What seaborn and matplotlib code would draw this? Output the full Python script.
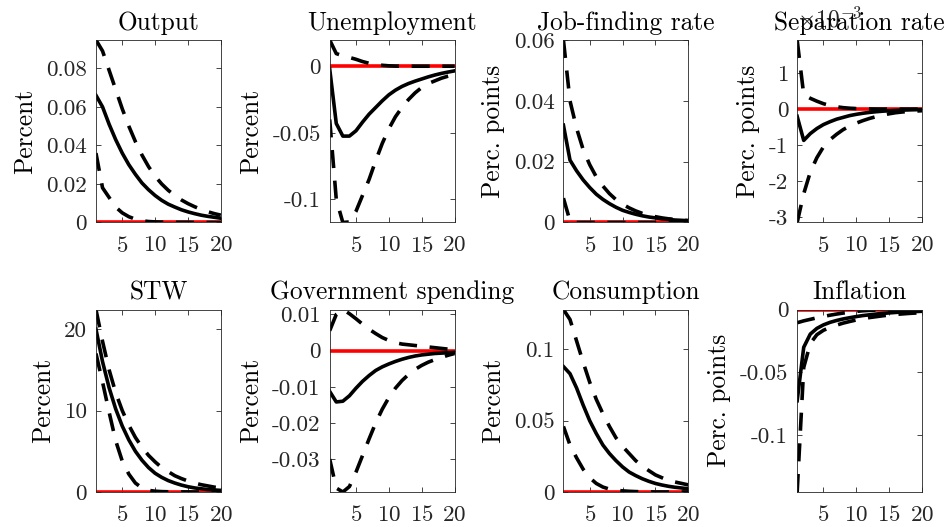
import numpy as np
import matplotlib
matplotlib.use('Agg')
import matplotlib.pyplot as plt
from matplotlib.ticker import FuncFormatter
import seaborn as sns

# Horizon (quarters)
horizon = list(range(1, 21))

# Output
output_med = [0.066, 0.060, 0.051, 0.043, 0.036, 0.030, 0.025, 0.0205, 0.017, 0.014,
              0.0115, 0.0095, 0.008, 0.0066, 0.0055, 0.0046, 0.0038, 0.0032, 0.0027, 0.0022]
output_hi = [0.0947, 0.089, 0.079, 0.069, 0.059, 0.050, 0.042, 0.035, 0.029, 0.024,
             0.020, 0.0167, 0.014, 0.0117, 0.0098, 0.0082, 0.0068, 0.0056, 0.0046, 0.0038]
output_lo = [0.036, 0.018, 0.013, 0.008, 0.005, 0.003, 0.0017, 0.0009, 0.0005, 0.0003,
             0.0002, 0.0001, 0.0001, 0.0001, 0.0001, 0, 0, 0, 0, 0]

# Unemployment
unemp_med = [-0.002, -0.043, -0.0525, -0.0525, -0.0485, -0.042, -0.036, -0.031, -0.026, -0.0215,
             -0.018, -0.0152, -0.0130, -0.0112, -0.0096, -0.0080, -0.0066, -0.0054, -0.0044, -0.0035]
unemp_hi = [0.0197, 0.0095, 0.0078, 0.0066, 0.0052, 0.0035, 0.0022, 0.0013, 0.0007, 0.0003,
            0.0001, 0, 0, 0, 0, 0, 0, 0, 0, 0]
unemp_lo = [-0.040, -0.100, -0.1174, -0.117, -0.109, -0.097, -0.085, -0.071, -0.058, -0.047,
            -0.038, -0.031, -0.025, -0.020, -0.016, -0.013, -0.011, -0.009, -0.0075, -0.0063]

# Job-finding rate
job_med = [0.032, 0.0205, 0.0170, 0.0140, 0.0115, 0.0093, 0.0076, 0.0062, 0.0050, 0.0040,
           0.0033, 0.0027, 0.0022, 0.0018, 0.0015, 0.0012, 0.0010, 0.0008, 0.0007, 0.0006]
job_hi = [0.060, 0.040, 0.031, 0.024, 0.019, 0.015, 0.012, 0.0095, 0.0075, 0.006,
          0.0048, 0.0038, 0.003, 0.0024, 0.0019, 0.0015, 0.0012, 0.001, 0.0008, 0.0006]
job_lo = [0.008, 0.0005, 0, 0, 0, 0, 0, 0, 0, 0, 0, 0, 0, 0, 0, 0, 0, 0, 0, 0]

# Separation rate (in units of 1e-3)
sep_med = [-0.2, -0.87, -0.68, -0.54, -0.43, -0.35, -0.28, -0.23, -0.18, -0.145,
           -0.115, -0.092, -0.073, -0.058, -0.046, -0.036, -0.028, -0.022, -0.017, -0.013]
sep_hi = [1.92, 0.40, 0.30, 0.22, 0.15, 0.10, 0.065, 0.04, 0.025, 0.015,
          0.008, 0.004, 0.001, 0, 0, 0, 0, 0, 0, 0]
sep_lo = [-3.15, -2.35, -1.75, -1.35, -1.05, -0.85, -0.70, -0.57, -0.47, -0.39,
          -0.32, -0.26, -0.21, -0.17, -0.13, -0.10, -0.08, -0.065, -0.055, -0.045]

# STW
stw_med = [20.0, 16.0, 12.8, 10.2, 8.1, 6.4, 5.0, 3.9, 3.0, 2.3,
           1.8, 1.4, 1.1, 0.85, 0.65, 0.5, 0.4, 0.3, 0.25, 0.2]
stw_hi = [22.4, 18.5, 15.0, 12.2, 10.0, 8.2, 6.7, 5.5, 4.5, 3.7,
          3.0, 2.5, 2.0, 1.65, 1.35, 1.1, 0.9, 0.75, 0.6, 0.5]
stw_lo = [17.0, 13.5, 9.8, 6.3, 3.8, 2.2, 1.1, 0.5, 0.2, 0.1,
          0.05, 0.03, 0.02, 0.01, 0.01, 0, 0, 0, 0, 0]

# Government spending
gov_med = [-0.0113, -0.0142, -0.0140, -0.0125, -0.0104, -0.0085, -0.0069, -0.0055, -0.0045, -0.0037,
           -0.0030, -0.0024, -0.0019, -0.0015, -0.0012, -0.0010, -0.0008, -0.0007, -0.0006, -0.0005]
gov_hi = [0.0055, 0.0100, 0.01135, 0.0102, 0.0088, 0.0073, 0.0059, 0.0047, 0.0036, 0.0028,
          0.0022, 0.0018, 0.0016, 0.0014, 0.0012, 0.0010, 0.0008, 0.0006, 0.0004, 0.0003]
gov_lo = [-0.0300, -0.0380, -0.0391, -0.0376, -0.0336, -0.0290, -0.0244, -0.0200, -0.0162, -0.0130,
          -0.0104, -0.0083, -0.0066, -0.0052, -0.0041, -0.0032, -0.0025, -0.0019, -0.0013, -0.0008]

# Consumption
cons_med = [0.088, 0.083, 0.073, 0.061, 0.050, 0.041, 0.033, 0.027, 0.022, 0.0176,
            0.014, 0.0115, 0.0093, 0.0075, 0.006, 0.0049, 0.004, 0.0033, 0.0028, 0.0023]
cons_hi = [0.128, 0.121, 0.106, 0.091, 0.077, 0.065, 0.055, 0.046, 0.038, 0.032,
           0.027, 0.022, 0.018, 0.015, 0.012, 0.010, 0.008, 0.007, 0.006, 0.005]
cons_lo = [0.046, 0.033, 0.024, 0.016, 0.010, 0.006, 0.0035, 0.002, 0.0012, 0.0008,
           0.0005, 0.0003, 0.0002, 0.0001, 0, 0, 0, 0, 0, 0]

# Inflation
infl_med = [-0.0725, -0.030, -0.0195, -0.0150, -0.0122, -0.0102, -0.0087, -0.0075, -0.0065, -0.0056,
            -0.0048, -0.0042, -0.0036, -0.0031, -0.0027, -0.0023, -0.0020, -0.0018, -0.0016, -0.0014]
infl_hi = [-0.0105, -0.0090, -0.0078, -0.0066, -0.0055, -0.0045, -0.0036, -0.0028, -0.0021, -0.0015,
           -0.0010, -0.0007, -0.0005, -0.0004, -0.0003, -0.0002, -0.0002, -0.0001, -0.0001, -0.0001]
infl_lo = [-0.145, -0.046, -0.027, -0.020, -0.0165, -0.0142, -0.0124, -0.0108, -0.0095, -0.0083,
           -0.0073, -0.0064, -0.0057, -0.0050, -0.0044, -0.0039, -0.0035, -0.0031, -0.0028, -0.0025]

titles = ['Output', 'Unemployment', 'Job-finding rate', 'Separation rate',
          'STW', 'Government spending', 'Consumption', 'Inflation']
ylabels = ['Percent', 'Percent', 'Perc. points', 'Perc. points',
           'Percent', 'Percent', 'Percent', 'Perc. points']
yticks = [[0, 0.02, 0.04, 0.06, 0.08], [-0.1, -0.05, 0], [0, 0.02, 0.04, 0.06], [-3, -2, -1, 0, 1],
          [0, 10, 20], [-0.03, -0.02, -0.01, 0, 0.01], [0, 0.05, 0.1], [-0.1, -0.05, 0]]
xticks = [5, 10, 15, 20]

series = [(output_med, output_hi, output_lo), (unemp_med, unemp_hi, unemp_lo),
          (job_med, job_hi, job_lo), (sep_med, sep_hi, sep_lo),
          (stw_med, stw_hi, stw_lo), (gov_med, gov_hi, gov_lo),
          (cons_med, cons_hi, cons_lo), (infl_med, infl_hi, infl_lo)]

plt.rcParams['font.family'] = ['cmr10']
plt.rcParams['mathtext.fontset'] = 'cm'
plt.rcParams['axes.unicode_minus'] = False
plt.rcParams['axes.formatter.use_mathtext'] = True

axcol = '#262626'
fig, axes = plt.subplots(2, 4, figsize=(9.52, 5.27), dpi=100)
fig.subplots_adjust(left=0.1008, right=0.9685, top=0.9241, bottom=0.0664,
                    wspace=0.872, hspace=0.477)

fmt = FuncFormatter(lambda v, p: '0' if abs(v) < 1e-12 else f'{round(v, 10):g}')
zero = np.zeros(len(horizon))
dash = (0, (5, 3.5))

for i, ax in enumerate(axes.flat):
    med, hi, lo = series[i]
    sns.lineplot(x=horizon, y=zero, color='red', linewidth=2.6, ax=ax)
    sns.lineplot(x=horizon, y=hi, color='black', linewidth=2.6, linestyle=dash, ax=ax)
    sns.lineplot(x=horizon, y=lo, color='black', linewidth=2.6, linestyle=dash, ax=ax)
    sns.lineplot(x=horizon, y=med, color='black', linewidth=2.6, ax=ax)

    allv = np.concatenate([med, hi, lo, zero])
    ax.set_xlim(1, 20)
    ax.set_ylim(allv.min(), allv.max())
    ax.set_xticks(xticks)
    ax.set_yticks(yticks[i])
    ax.yaxis.set_major_formatter(fmt)
    ax.tick_params(direction='in', top=True, right=True, length=3.5, width=0.6,
                   colors=axcol, labelsize=16.6)
    ax.tick_params(axis='x', pad=9.5)
    ax.tick_params(axis='y', pad=6.5)
    for s in ax.spines.values():
        s.set_color(axcol)
        s.set_linewidth(0.6)
    ax.set_title(titles[i], fontsize=18.3, pad=7.5, color='black')
    ax.set_ylabel(ylabels[i], fontsize=18.3, labelpad=6.5, color='black')
    ax.set_xlabel('')

# exponent label for the separation rate panel
axes[0, 3].annotate(r'$\times10^{-3}$', xy=(0, 1), xycoords='axes fraction',
                    xytext=(0, 9.4), textcoords='offset points', fontsize=17,
                    color=axcol, ha='left', va='baseline')

plt.savefig('out.png', dpi=100)
